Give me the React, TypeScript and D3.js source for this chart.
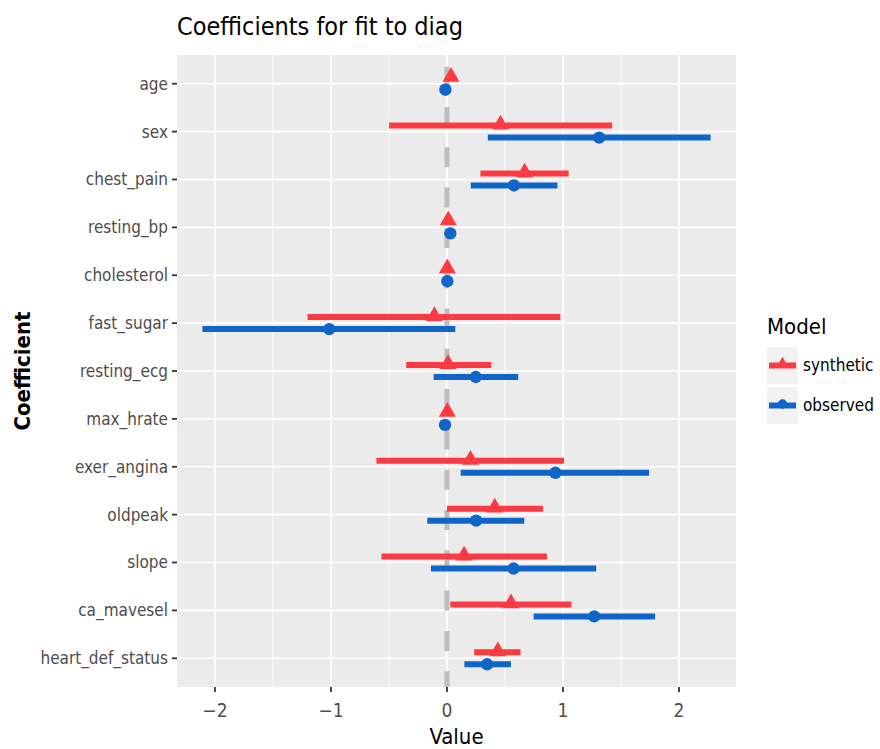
import React, { useRef, useEffect } from "react";
import * as d3 from "d3";

const coefficients = [
  "age", "sex", "chest_pain", "resting_bp", "cholesterol", "fast_sugar", "resting_ecg",
  "max_hrate", "exer_angina", "oldpeak", "slope", "ca_mavesel", "heart_def_status",
];

const synthEst = [0.035, 0.461, 0.669, 0.011, 0.003, -0.109, 0.009, 0.003, 0.202, 0.412, 0.147, 0.551, 0.438];
const synthLow = [0.025, -0.499, 0.288, 0.003, -0.004, -1.202, -0.352, -0.004, -0.608, 0.0, -0.565, 0.029, 0.234];
const synthHigh = [0.045, 1.424, 1.049, 0.019, 0.01, 0.977, 0.381, 0.01, 1.009, 0.828, 0.862, 1.073, 0.634];

const obsEst = [-0.014, 1.312, 0.577, 0.029, 0.003, -1.015, 0.248, -0.017, 0.934, 0.251, 0.574, 1.269, 0.346];
const obsLow = [-0.022, 0.352, 0.205, 0.022, -0.004, -2.108, -0.115, -0.024, 0.118, -0.17, -0.138, 0.747, 0.15];
const obsHigh = [-0.006, 2.272, 0.952, 0.036, 0.01, 0.072, 0.614, -0.01, 1.742, 0.666, 1.286, 1.794, 0.551];

const models = ["synthetic", "observed"];
const xTicks = [-2, -1, 0, 1, 2];

const RED = "#fd3a41";
const BLUE = "#1066c8";
const FONT = "'Liberation Sans Narrow', 'DejaVu Sans Condensed', 'Liberation Sans', sans-serif";

const CoefPlot = () => {
  const ref = useRef<SVGSVGElement>(null);

  useEffect(() => {
    const svg = d3.select(ref.current);
    svg.selectAll("*").remove();

    const left = 177, right = 736, top = 55, bottom = 687;

    const lo = d3.min(obsLow.concat(synthLow)) as number;
    const hi = d3.max(obsHigh.concat(synthHigh)) as number;
    const pad = (hi - lo) * 0.05;
    const x = d3.scaleLinear().domain([lo - pad, hi + pad]).range([left, right]);
    const y = d3.scalePoint().domain(coefficients).range([top, bottom]).padding(0.6);
    const dodge = d3.scalePoint().domain(models).range([-6, 6]);

    const g = svg.append("g");

    // panel
    g.append("rect").attr("x", left).attr("y", top).attr("width", right - left).attr("height", bottom - top).attr("fill", "#ebebeb");

    const minor = d3.range(-2.5, 3, 1).filter(v => x(v) > left && x(v) < right);
    g.selectAll(".minor").data(minor).enter().append("line")
      .attr("x1", d => x(d)).attr("x2", d => x(d)).attr("y1", top).attr("y2", bottom)
      .attr("stroke", "#fff").attr("stroke-width", 0.8);
    g.selectAll(".majx").data(xTicks).enter().append("line")
      .attr("x1", d => x(d)).attr("x2", d => x(d)).attr("y1", top).attr("y2", bottom)
      .attr("stroke", "#fff").attr("stroke-width", 1.7);
    g.selectAll(".majy").data(coefficients).enter().append("line")
      .attr("x1", left).attr("x2", right).attr("y1", d => y(d)!).attr("y2", d => y(d)!)
      .attr("stroke", "#fff").attr("stroke-width", 1.7);

    // reference line at zero
    g.append("line")
      .attr("x1", x(0)).attr("x2", x(0)).attr("y1", top).attr("y2", bottom)
      .attr("stroke", "#bebebe").attr("stroke-width", 5)
      .attr("stroke-dasharray", "20 20.3").attr("stroke-dashoffset", 28.6);

    const series = [
      { name: "synthetic", color: RED, est: synthEst, low: synthLow, high: synthHigh },
      { name: "observed", color: BLUE, est: obsEst, low: obsLow, high: obsHigh },
    ];

    series.forEach(s => {
      const off = dodge(s.name)!;
      g.selectAll(".bar-" + s.name).data(coefficients).enter().append("line")
        .attr("x1", (d, i) => x(s.low[i])).attr("x2", (d, i) => x(s.high[i]))
        .attr("y1", d => y(d)! + off).attr("y2", d => y(d)! + off)
        .attr("stroke", s.color).attr("stroke-width", 6);
      const sym = s.name === "synthetic" ? d3.symbol(d3.symbolTriangle, 125) : d3.symbol(d3.symbolCircle, 120);
      g.selectAll(".pt-" + s.name).data(coefficients).enter().append("path")
        .attr("d", sym)
        .attr("transform", (d, i) => `translate(${x(s.est[i])},${y(d)! + off - (s.name === "synthetic" ? 1 : 0)})`)
        .attr("fill", s.color);
    });

    // y axis
    const ya = g.append("g").attr("font-family", FONT);
    coefficients.forEach(c => {
      ya.append("line").attr("x1", left - 5).attr("x2", left).attr("y1", y(c)!).attr("y2", y(c)!)
        .attr("stroke", "#333").attr("stroke-width", 1.8);
      ya.append("text").attr("x", left - 9).attr("y", y(c)!).attr("dy", "0.35em")
        .attr("text-anchor", "end").attr("font-size", 17).attr("fill", "#4d4d4d").text(c);
    });

    // x axis
    const xa = g.append("g").attr("font-family", FONT);
    xTicks.forEach(t => {
      xa.append("line").attr("x1", x(t)).attr("x2", x(t)).attr("y1", bottom).attr("y2", bottom + 5)
        .attr("stroke", "#333").attr("stroke-width", 1.8);
      xa.append("text").attr("x", x(t)).attr("y", bottom + 30)
        .attr("text-anchor", "middle").attr("font-size", 19).attr("fill", "#4d4d4d")
        .text(t < 0 ? "\u2212" + Math.abs(t) : String(t));
    });

    // titles
    svg.append("text").attr("x", left).attr("y", 35).attr("font-family", FONT)
      .attr("font-size", 25).attr("fill", "#000").text("Coefficients for fit to diag");
    svg.append("text").attr("x", (left + right) / 2).attr("y", 744).attr("text-anchor", "middle")
      .attr("font-family", FONT).attr("font-size", 22).attr("fill", "#000").text("Value");
    svg.append("text").attr("transform", `translate(30,${(top + bottom) / 2}) rotate(-90)`)
      .attr("text-anchor", "middle").attr("font-family", FONT).attr("font-weight", "bold")
      .attr("font-size", 22).attr("fill", "#000").text("Coefficient");

    // legend
    const lg = svg.append("g").attr("transform", "translate(767,0)").attr("font-family", FONT);
    lg.append("text").attr("x", 0).attr("y", 334).attr("font-size", 22).attr("fill", "#000").text("Model");
    series.forEach((s, i) => {
      const ky = 347 + i * 40;
      lg.append("rect").attr("x", 0).attr("y", ky).attr("width", 31).attr("height", 37).attr("fill", "#f2f2f2");
      lg.append("line").attr("x1", 2).attr("x2", 29).attr("y1", ky + 18.5).attr("y2", ky + 18.5)
        .attr("stroke", s.color).attr("stroke-width", 6);
      const sym = s.name === "synthetic" ? d3.symbol(d3.symbolTriangle, 70) : d3.symbol(d3.symbolCircle, 70);
      lg.append("path").attr("d", sym).attr("transform", `translate(15.5,${ky + 17})`).attr("fill", s.color);
      lg.append("text").attr("x", 36).attr("y", ky + 18.5).attr("dy", "0.35em")
        .attr("font-size", 17).attr("fill", "#000").text(s.name);
    });
  }, []);

  return <svg ref={ref} width={880} height={749} style={{ display: "block" }} />;
};

const App = () => {
  return (
    <div style={{ position: "absolute", left: 0, top: 0, background: "#fff" }}>
      <CoefPlot />
    </div>
  );
};

export default App;
